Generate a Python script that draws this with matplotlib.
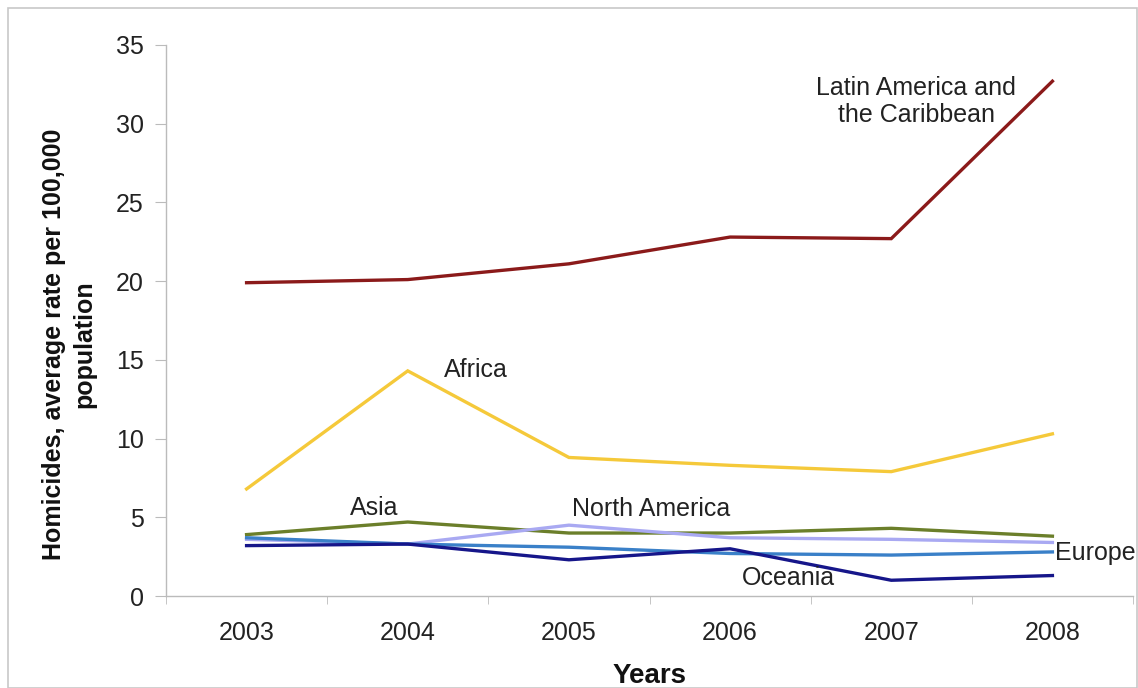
import matplotlib
matplotlib.use("Agg")
import matplotlib.pyplot as plt
from matplotlib.patches import Rectangle

years = ["2003", "2004", "2005", "2006", "2007", "2008"]
latin_america = [19.9, 20.1, 21.1, 22.8, 22.7, 32.7]
africa = [6.8, 14.3, 8.8, 8.3, 7.9, 10.3]
asia = [3.9, 4.7, 4.0, 4.0, 4.3, 3.8]
north_america = [3.6, 3.3, 4.5, 3.7, 3.6, 3.4]
europe = [3.7, 3.3, 3.1, 2.7, 2.6, 2.8]
oceania = [3.2, 3.3, 2.3, 3.0, 1.0, 1.3]
yticks = [0, 5, 10, 15, 20, 25, 30, 35]

plt.rcParams['font.family'] = ['Liberation Sans', 'DejaVu Sans']

fig = plt.figure(figsize=(11.38, 6.88), dpi=100)
fig.patches.append(Rectangle((8/1138, 0), 1 - 9/1138, 1 - 8/688, transform=fig.transFigure,
                             fill=False, edgecolor='#c8c8c8', linewidth=1.2))
ax = fig.add_axes([166/1138, (688-596)/688, (1133-166)/1138, (596-45)/688])

x = list(range(len(years)))
series = [
    (latin_america, '#8b1a1a'),
    (africa, '#f5c93a'),
    (asia, '#6b7f2a'),
    (north_america, '#a9a9f2'),
    (europe, '#3a80c8'),
    (oceania, '#16168a'),
]
for vals, col in series:
    ax.plot(x, vals, color=col, linewidth=2.4, solid_joinstyle='miter')

ax.set_xlim(-0.5, len(years) - 0.5)
ax.set_ylim(0, 35)
ax.set_yticks(yticks)
ax.set_yticklabels([str(v) for v in yticks], fontsize=18, color='#222222')
ax.set_xticks(x)
ax.set_xticklabels(years, fontsize=18, color='#222222')
ax.set_xticks([i - 0.5 for i in range(len(years) + 1)], minor=True)
ax.tick_params(axis='x', which='major', length=0, pad=18)
ax.tick_params(axis='x', which='minor', length=6, color='#bbbbbb', direction='out')
ax.tick_params(axis='y', length=8, color='#bbbbbb', pad=8)
for s in ['top', 'right']:
    ax.spines[s].set_visible(False)
for s in ['left', 'bottom']:
    ax.spines[s].set_color('#bbbbbb')
    ax.spines[s].set_linewidth(1.0)

ax.set_ylabel("Homicides, average rate per 100,000\npopulation", fontsize=18,
              fontweight='bold', color='#111111', linespacing=1.3, va='center')
ax.yaxis.set_label_coords(-0.1, 0.457)
ax.set_xlabel("Years", fontsize=20, fontweight='bold', color='#111111', va='center')
ax.xaxis.set_label_coords(0.5, -0.145)

tc = '#222222'
fs = 18
ax.text(4.155, 31.4, "Latin America and\nthe Caribbean", fontsize=fs, color=tc,
        ha='center', va='center', linespacing=1.15)
ax.text(1.226, 14.36, "Africa", fontsize=fs, color=tc, ha='left', va='center')
ax.text(0.79, 5.6, "Asia", fontsize=fs, color=tc, ha='center', va='center')
ax.text(2.51, 5.53, "North America", fontsize=fs, color=tc, ha='center', va='center')
ax.text(5.015, 2.73, "Europe", fontsize=fs, color=tc, ha='left', va='center')
ax.text(3.36, 1.14, "Oceania", fontsize=fs, color=tc, ha='center', va='center')

fig.savefig("out.png", dpi=100)
